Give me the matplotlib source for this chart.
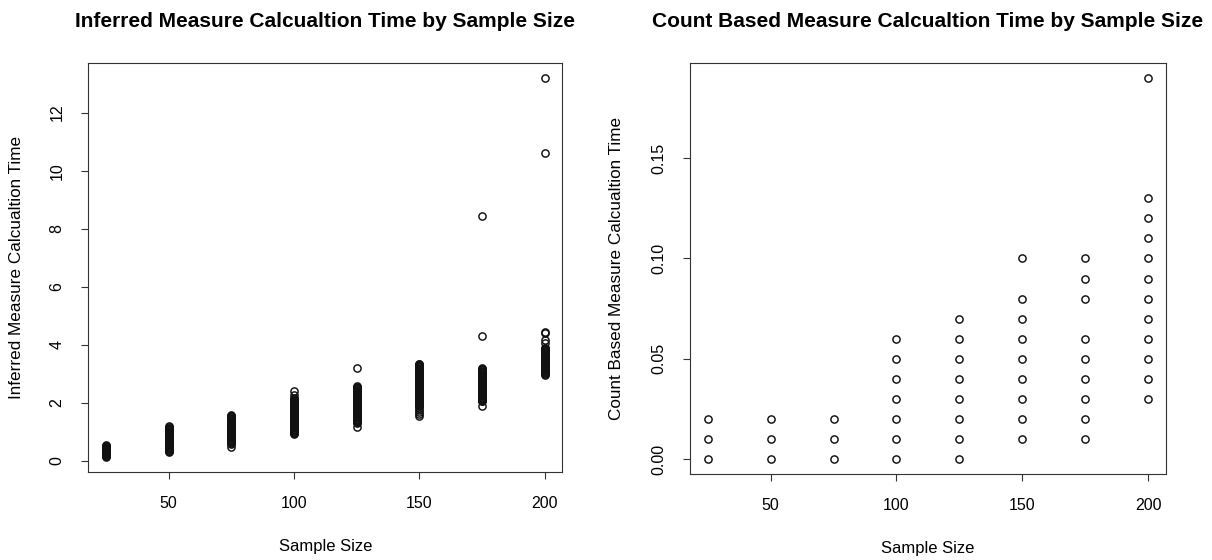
import matplotlib
matplotlib.use("Agg")
import matplotlib.pyplot as plt
from matplotlib.ticker import FormatStrFormatter

plt.rcParams['font.family'] = ['Liberation Sans', 'DejaVu Sans']

sample_sizes = [25, 50, 75, 100, 125, 150, 175, 200]

# Inferred measure calculation time (dense columns)
inferred_25 = [0.13, 0.15, 0.17, 0.19, 0.21, 0.23, 0.25, 0.27, 0.29, 0.31, 0.33, 0.35,
               0.37, 0.39, 0.41, 0.43, 0.45, 0.47, 0.49, 0.51, 0.54]
inferred_50 = [0.30, 0.33, 0.35, 0.38, 0.40, 0.43, 0.45, 0.48, 0.50, 0.53, 0.55, 0.58,
               0.60, 0.63, 0.65, 0.68, 0.70, 0.73, 0.75, 0.78, 0.80, 0.83, 0.85, 0.88,
               0.90, 0.93, 0.95, 0.98, 1.00, 1.03, 1.05, 1.08, 1.10, 1.13, 1.15, 1.18]
inferred_75 = [0.48, 0.58, 0.60, 0.63, 0.65, 0.68, 0.70, 0.73, 0.75, 0.78, 0.80, 0.83,
               0.85, 0.88, 0.90, 0.93, 0.95, 0.98, 1.00, 1.03, 1.05, 1.08, 1.10, 1.13,
               1.15, 1.18, 1.20, 1.23, 1.25, 1.28, 1.30, 1.33, 1.35, 1.38, 1.40, 1.43,
               1.45, 1.48, 1.50, 1.53, 1.55, 1.58]
inferred_100 = [0.92, 0.95, 0.97, 1.00, 1.02, 1.05, 1.07, 1.10, 1.12, 1.15, 1.17, 1.20,
                1.22, 1.25, 1.27, 1.30, 1.32, 1.35, 1.37, 1.40, 1.42, 1.45, 1.47, 1.50,
                1.52, 1.55, 1.57, 1.60, 1.62, 1.65, 1.67, 1.70, 1.72, 1.75, 1.77, 1.80,
                1.82, 1.85, 1.87, 1.90, 1.92, 1.95, 1.97, 2.00, 2.02, 2.05, 2.07, 2.10,
                2.12, 2.15, 2.25, 2.40]
inferred_125 = [1.17, 1.30, 1.32, 1.35, 1.37, 1.40, 1.42, 1.45, 1.47, 1.50, 1.52, 1.55,
                1.57, 1.60, 1.62, 1.65, 1.67, 1.70, 1.72, 1.75, 1.77, 1.80, 1.82, 1.85,
                1.87, 1.90, 1.92, 1.95, 1.97, 2.00, 2.02, 2.05, 2.07, 2.10, 2.12, 2.15,
                2.17, 2.20, 2.22, 2.25, 2.27, 2.30, 2.32, 2.35, 2.37, 2.40, 2.42, 2.45,
                2.47, 2.50, 2.52, 2.55, 2.57, 3.20]
inferred_150 = [1.55, 1.62, 1.68, 1.74, 1.82, 1.90, 1.92, 1.95, 1.97, 2.00, 2.02, 2.05,
                2.07, 2.10, 2.12, 2.15, 2.17, 2.20, 2.22, 2.25, 2.27, 2.30, 2.32, 2.35,
                2.37, 2.40, 2.42, 2.45, 2.47, 2.50, 2.52, 2.55, 2.57, 2.60, 2.62, 2.65,
                2.67, 2.70, 2.72, 2.75, 2.77, 2.80, 2.82, 2.85, 2.87, 2.90, 2.92, 2.95,
                2.97, 3.00, 3.02, 3.05, 3.07, 3.10, 3.12, 3.15, 3.17, 3.20, 3.22, 3.25,
                3.27, 3.30, 3.32, 3.35]
inferred_175 = [1.90, 2.05, 2.07, 2.10, 2.12, 2.15, 2.17, 2.20, 2.22, 2.25, 2.27, 2.30,
                2.32, 2.35, 2.37, 2.40, 2.42, 2.45, 2.47, 2.50, 2.52, 2.55, 2.57, 2.60,
                2.62, 2.65, 2.67, 2.70, 2.72, 2.75, 2.77, 2.80, 2.82, 2.85, 2.87, 2.90,
                2.92, 2.95, 2.97, 3.00, 3.02, 3.05, 3.07, 3.10, 3.12, 3.15, 3.17, 3.20,
                4.30, 8.45]
inferred_200 = [2.97, 3.00, 3.02, 3.05, 3.07, 3.10, 3.12, 3.15, 3.17, 3.20, 3.22, 3.25,
                3.27, 3.30, 3.32, 3.35, 3.37, 3.40, 3.42, 3.45, 3.47, 3.50, 3.52, 3.55,
                3.57, 3.60, 3.62, 3.65, 3.67, 3.70, 3.72, 3.75, 3.77, 3.80, 3.82, 3.85,
                3.87, 3.90, 4.05, 4.15, 4.40, 4.45, 10.60, 13.20]
inferred_groups = [inferred_25, inferred_50, inferred_75, inferred_100,
                   inferred_125, inferred_150, inferred_175, inferred_200]

# Count based measure calculation time
count_25 = [0.00, 0.01, 0.02]
count_50 = [0.00, 0.01, 0.02]
count_75 = [0.00, 0.01, 0.02]
count_100 = [0.00, 0.01, 0.02, 0.03, 0.04, 0.05, 0.06]
count_125 = [0.00, 0.01, 0.02, 0.03, 0.04, 0.05, 0.06, 0.07]
count_150 = [0.01, 0.02, 0.03, 0.04, 0.05, 0.06, 0.07, 0.08, 0.10]
count_175 = [0.01, 0.02, 0.03, 0.04, 0.05, 0.06, 0.08, 0.09, 0.10]
count_200 = [0.03, 0.04, 0.05, 0.06, 0.07, 0.08, 0.09, 0.10, 0.11, 0.12, 0.13, 0.19]
count_groups = [count_25, count_50, count_75, count_100,
                count_125, count_150, count_175, count_200]

x_ticks = [50, 100, 150, 200]
left_yticks = [0, 2, 4, 6, 8, 10, 12]
right_yticks = [0.00, 0.05, 0.10, 0.15]

titles = ["Inferred Measure Calcualtion Time by Sample Size",
          "Count Based Measure Calcualtion Time by Sample Size"]
ylabels = ["Inferred Measure Calcualtion Time",
           "Count Based Measure Calcualtion Time"]
xlabel = "Sample Size"


def flatten(groups):
    xs, ys = [], []
    for s, g in zip(sample_sizes, groups):
        xs.extend([s] * len(g))
        ys.extend(g)
    return xs, ys


def r_lim(vals):
    lo, hi = min(vals), max(vals)
    pad = (hi - lo) * 0.04
    return lo - pad, hi + pad


fig = plt.figure(figsize=(12.12, 5.6), dpi=100)
ax1 = fig.add_axes([0.0729, 0.157, 0.391, 0.731])
ax2 = fig.add_axes([0.5693, 0.153, 0.3927, 0.735])

edge = '#111111'
for ax, groups, yt, title, ylab, ylc in [
        (ax1, inferred_groups, left_yticks, titles[0], ylabels[0], -0.136),
        (ax2, count_groups, right_yticks, titles[1], ylabels[1], -0.139)]:
    xs, ys = flatten(groups)
    ax.plot(xs, ys, linestyle='none', marker='o', markersize=5.2,
            markerfacecolor='none', markeredgecolor=edge, markeredgewidth=1.05)
    ax.set_xlim(*r_lim(xs))
    ax.set_ylim(*r_lim(ys))
    ax.set_xticks(x_ticks)
    ax.set_yticks(yt)
    ax.tick_params(axis='both', direction='out', length=5, width=0.8,
                   color='#333333', labelsize=11.5, pad=12)
    ax.tick_params(axis='y', labelrotation=90)
    for lbl in ax.get_yticklabels():
        lbl.set_va('center')
    for sp in ax.spines.values():
        sp.set_linewidth(0.8)
        sp.set_color('#333333')
    ax.set_xlabel(xlabel, fontsize=12)
    ax.set_ylabel(ylab, fontsize=12.3)
    ax.xaxis.set_label_coords(0.5, -0.163)
    ax.yaxis.set_label_coords(ylc, 0.5)
    bb = ax.get_position()
    fig.text((bb.x0 + bb.x1) / 2, 0.962, title, ha='center', va='center',
             fontsize=15, fontweight='bold')

ax2.yaxis.set_major_formatter(FormatStrFormatter('%.2f'))

fig.savefig('out.png', dpi=100)
